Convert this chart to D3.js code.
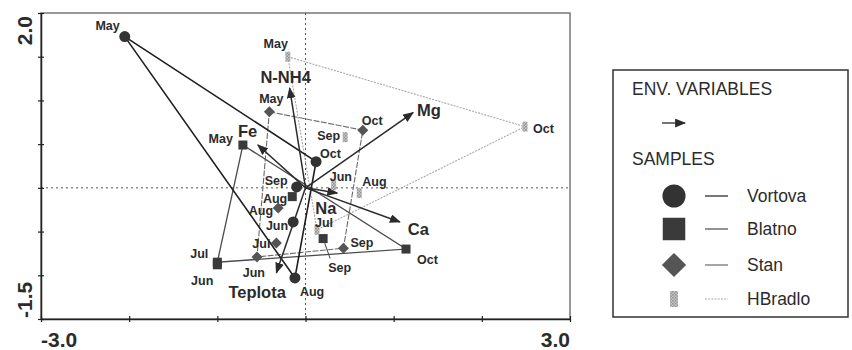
<!DOCTYPE html>
<html><head><meta charset="utf-8">
<script src="https://cdn.jsdelivr.net/npm/d3@7"></script>
<style>
body{margin:0;background:#fff;}
svg{display:block;font-family:"Liberation Sans",Arial,sans-serif;}
</style></head>
<body><svg id="c" width="852" height="350"></svg>
<script>
// ---------- DATA ----------
const months = ["May","Jun","Jul","Aug","Sep","Oct"];
const vortovaX = [-2.05,-0.14, null,-0.12,-0.10, 0.12];
const vortovaY = [ 1.73,-0.39, null,-1.03, 0.01, 0.30];
const blatnoX  = [-0.71,-1.00,-1.00,-0.15, 0.20, 1.14];
const blatnoY  = [ 0.49,-0.88,-0.85,-0.10,-0.58,-0.70];
const stanX    = [-0.41,-0.55,-0.33,-0.31, 0.43, 0.65];
const stanY    = [ 0.87,-0.79,-0.63,-0.23,-0.69, 0.66];
const hbradloX = [-0.20, 0.32, 0.13, 0.61, 0.45, 2.49];
const hbradloY = [ 1.50, 0.03,-0.48,-0.06, 0.58, 0.70];
const vortovaHull = ["May","Oct","Aug"];
const blatnoHull  = ["May","Oct","Jul"];
const stanHull    = ["May","Oct","Sep","Jun"];
const hbradloHull = ["May","Oct","Jul"];
const envNames = ["N-NH4","Mg","Fe","Ca","Na","Teplota"];
const envX = [-0.18, 1.22,-0.54, 1.07, 0.36,-0.33];
const envY = [ 1.14, 0.86, 0.49,-0.39,-0.06,-0.97];
const groupNames = ["Vortova","Blatno","Stan","HBradlo"];
const xTickValues = [-3,-2,-1,0,1,2,3];
const yTickValues = [-1.5,-1,-0.5,0,0.5,1,1.5,2];
const xTickLabels = ["-3.0","3.0"];
const yTickLabels = ["-1.5","2.0"];

// ---------- LAYOUT / STYLE ----------
const P = {l:41, r:570, t:13, b:319};
const svg = d3.select("#c");
const x = d3.scaleLinear().domain([-3,3]).range([P.l,P.r]);
const y = d3.scaleLinear().domain([-1.5,2]).range([P.b,P.t]);
const ink = "#2b2b2b";

const labelPos = {
  Vortova:{May:[-5,-7,"end"],Jun:[-5,8,"end"],Aug:[5,18,"start"],Sep:[-9,-2,"end"],Oct:[4,-4,"start"]},
  Blatno:{May:[-10,-2,"end"],Jun:[-4,20,"end"],Jul:[-9,-4,"end"],Aug:[-5,6,"end"],Sep:[5,33,"start"],Oct:[11,15,"start"]},
  Stan:{May:[2,-9,"middle"],Jun:[8,20,"end"],Jul:[-6,5,"end"],Aug:[-5,7,"end"],Sep:[7,-1,"start"],Oct:[-1,-5,"start"]},
  HBradlo:{May:[0,-9,"end"],Jun:[-4,-4,"start"],Jul:[-2,-3,"start"],Aug:[3,-7,"start"],Sep:[-5,3,"end"],Oct:[8,6,"start"]}
};
const envLabelPos = {"N-NH4":[-4,-5,"middle"],Mg:[4,3,"start"],Fe:[-20,-8,"start"],Ca:[8,13,"start"],Na:[-22,21,"start"],Teplota:[-48,25,"start"]};
const groupStyle = {
  Vortova:{stroke:"#1e1e1e",w:1.6,dash:null,legDash:null},
  Blatno:{stroke:"#4a4a4a",w:1.3,dash:null,legDash:null},
  Stan:{stroke:"#6a6a6a",w:1.1,dash:"6,1.5",legDash:null},
  HBradlo:{stroke:"#a8a8a8",w:1.1,dash:"2,1.2",legDash:"2,1.2"}
};

const defs = svg.append("defs");
const pat = defs.append("pattern").attr("id","hatch").attr("patternUnits","userSpaceOnUse").attr("width",3).attr("height",3);
pat.append("rect").attr("width",3).attr("height",3).attr("fill","#c8c8c8");
pat.append("rect").attr("width",1.5).attr("height",1.5).attr("fill","#8f8f8f");
pat.append("rect").attr("x",1.5).attr("y",1.5).attr("width",1.5).attr("height",1.5).attr("fill","#9a9a9a");
defs.append("marker").attr("id","arr").attr("markerUnits","userSpaceOnUse")
  .attr("viewBox","0 0 10 8").attr("refX",9).attr("refY",4).attr("markerWidth",11).attr("markerHeight",9).attr("orient","auto")
  .append("path").attr("d","M0,0 L10,4 L0,8 Z").attr("fill",ink);

// ---------- ZERO LINES ----------
svg.append("line").attr("x1",P.l).attr("x2",P.r).attr("y1",y(0)).attr("y2",y(0))
  .attr("stroke","#555").attr("stroke-width",1).attr("stroke-dasharray","2,3");
svg.append("line").attr("x1",x(0)).attr("x2",x(0)).attr("y1",P.t).attr("y2",P.b)
  .attr("stroke","#555").attr("stroke-width",1).attr("stroke-dasharray","2,3");

// ---------- FRAME & AXES ----------
svg.append("rect").attr("x",P.l).attr("y",P.t).attr("width",P.r-P.l).attr("height",P.b-P.t)
  .attr("fill","none").attr("stroke","#555").attr("stroke-width",1.2);
const ax = svg.append("g").attr("transform",`translate(0,${P.b})`)
  .call(d3.axisBottom(x).tickValues(xTickValues).tickSize(3).tickSizeOuter(0).tickFormat(""));
const ay = svg.append("g").attr("transform",`translate(${P.l},0)`)
  .call(d3.axisLeft(y).tickValues(yTickValues).tickSize(3).tickSizeOuter(0).tickFormat(""));
[ax,ay].forEach(g=>{g.select(".domain").attr("stroke","#222").attr("stroke-width",1.5);
  g.selectAll(".tick line").attr("stroke","#222").attr("stroke-width",1.2);});
ax.selectAll(".tick line").attr("y1",-3).attr("y2",3);
ay.selectAll(".tick line").attr("x1",-3).attr("x2",3);
svg.append("text").attr("x",x(-3)).attr("y",347).attr("text-anchor","start")
  .attr("font-size",21).attr("font-weight","bold").attr("fill",ink).text(xTickLabels[0]);
svg.append("text").attr("x",x(3)).attr("y",347).attr("text-anchor","end")
  .attr("font-size",21).attr("font-weight","bold").attr("fill",ink).text(xTickLabels[1]);
svg.append("text").attr("transform",`translate(32,${y(-1.5)-1}) rotate(-90)`).attr("text-anchor","start")
  .attr("font-size",21).attr("font-weight","bold").attr("fill",ink).text(yTickLabels[0]);
svg.append("text").attr("transform",`translate(32,${y(2)+3}) rotate(-90)`).attr("text-anchor","end")
  .attr("font-size",21).attr("font-weight","bold").attr("fill",ink).text(yTickLabels[1]);

// ---------- GROUPS ----------
const groups = [
  {name:"Vortova",xs:vortovaX,ys:vortovaY,hull:vortovaHull},
  {name:"Blatno",xs:blatnoX,ys:blatnoY,hull:blatnoHull},
  {name:"Stan",xs:stanX,ys:stanY,hull:stanHull},
  {name:"HBradlo",xs:hbradloX,ys:hbradloY,hull:hbradloHull}
];
const lineGen = d3.line().x(d=>x(d[0])).y(d=>y(d[1])).curve(d3.curveLinearClosed);
[...groups].reverse().forEach(g=>{
  const pts = g.hull.map(m=>{const i=months.indexOf(m);return [g.xs[i],g.ys[i]];});
  const st = groupStyle[g.name];
  svg.append("path").attr("d",lineGen(pts)).attr("fill","none").attr("stroke",st.stroke)
    .attr("stroke-width",st.w).attr("stroke-dasharray",st.dash);
});

envNames.forEach((n,i)=>{
  svg.append("line").attr("x1",x(0)).attr("y1",y(0)).attr("x2",x(envX[i])).attr("y2",y(envY[i]))
    .attr("stroke",ink).attr("stroke-width",1.5).attr("marker-end","url(#arr)");
});

function symbol(sel,name,cx,cy,s){
  if(name==="Vortova") sel.append("circle").attr("cx",cx).attr("cy",cy).attr("r",5.5*s).attr("fill","#333");
  else if(name==="Blatno") sel.append("rect").attr("x",cx-4.5*s).attr("y",cy-4.5*s).attr("width",9*s).attr("height",9*s).attr("fill","#3a3a3a");
  else if(name==="Stan") sel.append("path").attr("d",`M${cx},${cy-5.5*s}L${cx+5.5*s},${cy}L${cx},${cy+5.5*s}L${cx-5.5*s},${cy}Z`).attr("fill","#555");
  else sel.append("rect").attr("x",cx-2.5*s).attr("y",cy-5*s).attr("width",5*s).attr("height",10*s).attr("fill","url(#hatch)");
}

groups.forEach(g=>{
  months.forEach((m,i)=>{
    if(g.xs[i]==null) return;
    symbol(svg,g.name,x(g.xs[i]),y(g.ys[i]),1);
  });
});
{const i=months.indexOf("Sep");const px=x(blatnoX[i]),py=y(blatnoY[i]);
 svg.append("line").attr("x1",px).attr("y1",py).attr("x2",px+7).attr("y2",py+20).attr("stroke","#444").attr("stroke-width",1);}
groups.forEach(g=>{
  months.forEach((m,i)=>{
    if(g.xs[i]==null) return;
    const lp = labelPos[g.name][m];
    svg.append("text").attr("x",x(g.xs[i])+lp[0]).attr("y",y(g.ys[i])+lp[1]).attr("text-anchor",lp[2])
      .attr("font-size",12.5).attr("font-weight","bold").attr("fill",ink).text(m);
  });
});
envNames.forEach((n,i)=>{
  const lp = envLabelPos[n];
  svg.append("text").attr("x",x(envX[i])+lp[0]).attr("y",y(envY[i])+lp[1]).attr("text-anchor",lp[2])
    .attr("font-size",16.5).attr("font-weight","bold").attr("fill",ink).text(n);
});

// ---------- LEGEND ----------
const L = svg.append("g");
L.append("rect").attr("x",613).attr("y",70).attr("width",235).attr("height",247)
  .attr("fill","#fff").attr("stroke","#333").attr("stroke-width",1.5);
L.append("text").attr("x",632).attr("y",95).attr("font-size",17.5).attr("fill",ink).text("ENV. VARIABLES");
L.append("line").attr("x1",662).attr("x2",685).attr("y1",123).attr("y2",123)
  .attr("stroke",ink).attr("stroke-width",1.3).attr("marker-end","url(#arr)");
L.append("text").attr("x",632).attr("y",165).attr("font-size",17.5).attr("fill",ink).text("SAMPLES");
const legY = [196,229,265,299];
groupNames.forEach((n,i)=>{
  symbol(L,n,674,legY[i],n==="HBradlo"?1.6:(n==="Stan"?2.2:(n==="Vortova"?2.1:2.5)));
  const st = groupStyle[n];
  L.append("line").attr("x1",705).attr("x2",728).attr("y1",legY[i]).attr("y2",legY[i])
    .attr("stroke",st.stroke).attr("stroke-width",1.2).attr("stroke-dasharray",st.legDash);
  L.append("text").attr("x",747).attr("y",legY[i]+6).attr("font-size",17.5).attr("fill",ink).text(n);
});
</script></body></html>
